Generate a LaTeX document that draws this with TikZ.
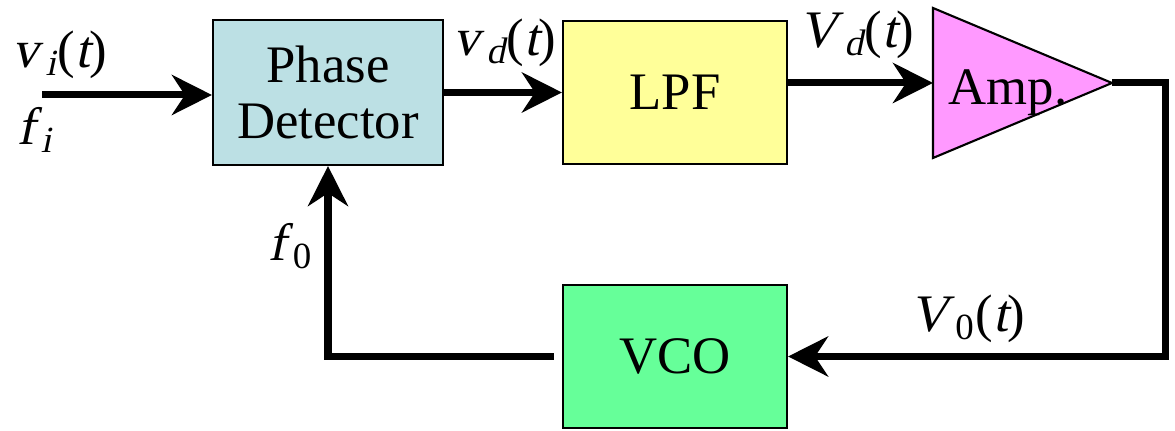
\documentclass[tikz,border=0pt]{standalone}
\usepackage{amsmath}
\usepackage{fontspec}
\setmainfont{Liberation Serif}[ItalicFont=Liberation Serif, ItalicFeatures={FakeSlant=0.21}]
\usepackage{tikz}
\usetikzlibrary{arrows.meta}

\definecolor{pdblue}{HTML}{BCE0E4}
\definecolor{lpfyellow}{HTML}{FFFF99}
\definecolor{amppink}{HTML}{FF99FF}
\definecolor{vcogreen}{HTML}{66FF99}

\begin{document}
\begin{tikzpicture}[auto, >={Stealth[length=0.4cm, width=0.4cm, inset=0.13cm]},
    block/.style={rectangle, draw, line width=0.6pt, minimum height=1.43cm, minimum width=2.24cm, align=center, font=\fontsize{15}{16}\selectfont},
    lbl/.style={font=\fontsize{15}{16}\selectfont, inner sep=0pt},
    arrow/.style={->, line width=2pt}]
    \useasboundingbox (0,0) rectangle (11.75,4.31);
    \node[block, fill=pdblue, minimum width=2.3cm, minimum height=1.45cm] (pd) at (3.28,3.385) {Phase\\Detector};
    \node[block, fill=lpfyellow, right of=pd, node distance=3.47cm] (lpf) {LPF};
    \node[block, fill=vcogreen, below of=lpf, node distance=2.64cm] (vco) {VCO};

    % amplifier
    \coordinate (ampin) at (9.33,3.48);
    \coordinate (ampout) at (11.12,3.48);
    \draw[fill=amppink, line width=0.6pt] (9.33,4.23) -- (ampout) -- (9.33,2.73) -- cycle;
    \node[lbl] (amp) at (10.08,3.38) {Amp.};

    \coordinate (in) at (0.42,3.36);
    \coordinate (corner) at (11.65,3.48);

    \draw[arrow] (in) -- (in -| pd.west);
    \draw[arrow] (pd.east) -- (pd.east -| lpf.west);
    \draw[arrow] (lpf.east |- ampin) -- (ampin);
    \draw[arrow] (ampout) -- (corner) |- (vco.east);
    \draw[arrow] ([xshift=-0.08cm]vco.west) -| (pd.south);

    % labels
    \node[lbl] (vi) at (0.60,3.76) {\textit{v}$_{\,\textit{i}}$(\textit{t})};
    \node[lbl] (fi) at (0.35,3.01) {\textit{f}$_{\,\textit{i}}$};
    \node[lbl] (vd) at (5.05,3.88) {\textit{v}$_{\,\textit{d}}$(\textit{t})};
    \node[lbl] (Vd) at (8.57,3.96) {\textit{V}$_{\,\textit{d}}$(\textit{t})};
    \node[lbl] (V0) at (9.68,1.12) {\textit{V}$_{\,\text{0}}$(\textit{t})};
    \node[lbl] (f0) at (2.91,1.85) {\textit{f}$_{\,\text{0}}$};
\end{tikzpicture}
\end{document}
